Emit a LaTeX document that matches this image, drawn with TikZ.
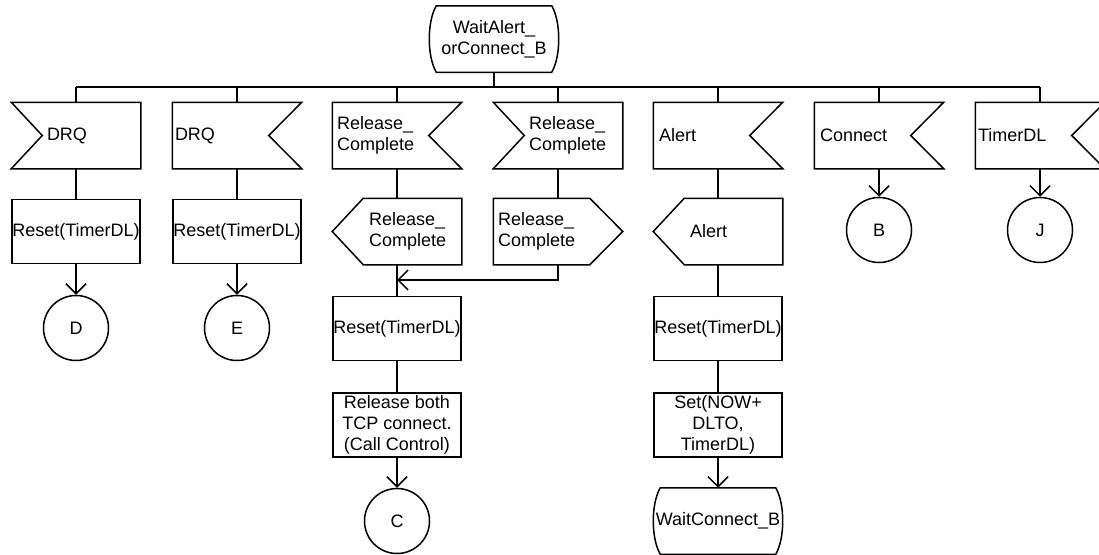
\documentclass[tikz,border=0pt]{standalone}
\usepackage{fontspec}
\setmainfont{Liberation Sans}
\usetikzlibrary{arrows.meta}

% Outlines of the SDL symbols, drawn round a plain rectangular node
\newcommand\sdlInLeft[1]{\draw[shp] (#1.north west) -- (#1.north east) -- (#1.south east) -- (#1.south west) -- ([xshift=31pt]#1.west) -- cycle;}
\newcommand\sdlInRight[1]{\draw[shp] (#1.north west) -- (#1.north east) -- ([xshift=-33pt]#1.east) -- (#1.south east) -- (#1.south west) -- cycle;}
\newcommand\sdlOutLeft[1]{\draw[shp] ([xshift=31pt]#1.north west) -- (#1.north east) -- (#1.south east) -- ([xshift=31pt]#1.south west) -- (#1.west) -- cycle;}
\newcommand\sdlOutRight[1]{\draw[shp] (#1.north west) -- ([xshift=-33pt]#1.north east) -- (#1.east) -- ([xshift=-33pt]#1.south east) -- (#1.south west) -- cycle;}
\newcommand\sdlState[1]{\draw[shp] ([xshift=7pt]#1.north west) -- ([xshift=-7pt]#1.north east)
  .. controls ([shift={(2.3pt,-16pt)}]#1.north east) and ([shift={(2.3pt,16pt)}]#1.south east) .. ([xshift=-7pt]#1.south east)
  -- ([xshift=7pt]#1.south west)
  .. controls ([shift={(-2.3pt,16pt)}]#1.south west) and ([shift={(-2.3pt,-16pt)}]#1.north west) .. cycle;}

\tikzset{
  txt/.style={font=\fontsize{18}{21}\selectfont},
  shp/.style={line join=miter},
  sym/.style={txt, minimum width=128pt, minimum height=65pt, inner sep=0pt},
  lbl/.style={txt, align=left, inner sep=0pt, anchor=west},
  task/.style={txt, draw, minimum width=128pt, minimum height=64pt, inner sep=0pt, align=center},
  conn/.style={txt, draw, circle, minimum size=65pt, inner sep=0pt},
  arr/.style={-{Straight Barb[length=10pt,width=20pt,line width=1.5pt]}},
}

\begin{document}
\begin{tikzpicture}[x=1pt, y=-1pt, line width=1.5pt]
\useasboundingbox (0,0) rectangle (1099,554);
\clip (0,0) rectangle (1099,554);

% start state and the bus that feeds all the inputs
\node[sym, align=center] (top) at (494,39) {WaitAlert\_\\orConnect\_B};
\sdlState{top}
\coordinate (busL) at (76,87);
\coordinate (busR) at (1040,87);
\draw (busL) -- (busR);
\draw (top.south) -- (top.south |- busL);

% column 1: DRQ
\node[sym] (c1a) at (76,135.5) {};
\sdlInLeft{c1a}
\node[lbl] (c1at) at ([xshift=35pt]c1a.west) {DRQ};
\node[task] (c1b) at (76,231.5) {Reset(TimerDL)};
\node[conn] (c1c) at (76,328) {D};

% column 2: DRQ
\node[sym] (c2a) at (237,135.5) {};
\sdlInRight{c2a}
\node[lbl] (c2at) at ([xshift=2pt]c2a.west) {DRQ};
\node[task] (c2b) at (237,231.5) {Reset(TimerDL)};
\node[conn] (c2c) at (237,328) {E};

% column 3: Release_Complete, forwarded
\node[sym] (c3a) at (397,135.5) {};
\sdlInRight{c3a}
\node[lbl] (c3at) at ([xshift=4pt]c3a.west) {Release\_\\Complete};
\node[sym] (c3b) at (397,231.5) {};
\sdlOutLeft{c3b}
\node[lbl] (c3bt) at ([xshift=36pt]c3b.west) {Release\_\\Complete};
\node[task] (c3c) at (397,328.5) {Reset(TimerDL)};
\node[task] (c3d) at (397,425) {Release both\\TCP connect.\\(Call Control)};
\node[conn] (c3e) at (397,521) {C};

% column 4: Release_Complete, other side
\node[sym] (c4a) at (558,135.5) {};
\sdlInLeft{c4a}
\node[lbl] (c4at) at ([xshift=35pt]c4a.west) {Release\_\\Complete};
\node[sym] (c4b) at (558,231.5) {};
\sdlOutRight{c4b}
\node[lbl] (c4bt) at ([xshift=4pt]c4b.west) {Release\_\\Complete};
\coordinate (mrg) at (397,280);

% column 5: Alert
\node[sym] (c5a) at (718,135.5) {};
\sdlInRight{c5a}
\node[lbl] (c5at) at ([xshift=5pt]c5a.west) {Alert};
\node[sym] (c5b) at (718,231.5) {};
\sdlOutLeft{c5b}
\node[lbl] (c5bt) at ([xshift=36pt]c5b.west) {Alert};
\node[task] (c5c) at (718,328.5) {Reset(TimerDL)};
\node[task] (c5d) at (718,425) {Set(NOW+\\DLTO,\\TimerDL)};
\node[sym, align=center] (c5e) at (718,521) {WaitConnect\_B};
\sdlState{c5e}

% column 6: Connect
\node[sym] (c6a) at (879,135.5) {};
\sdlInRight{c6a}
\node[lbl] (c6at) at ([xshift=5pt]c6a.west) {Connect};
\node[conn] (c6b) at (879,230) {B};

% column 7: TimerDL
\node[sym] (c7a) at (1040,135.5) {};
\sdlInRight{c7a}
\node[lbl] (c7at) at ([xshift=2pt]c7a.west) {TimerDL};
\node[conn] (c7b) at (1040,230) {J};

% stems from the bus
\foreach \n in {c1a,c2a,c3a,c4a,c5a,c6a,c7a}
  \draw (\n.north) -- (\n.north |- busL);

% flow lines
\draw (c1a.south) -- (c1b.north);
\draw[arr] (c1b.south) -- (c1c.north);
\draw (c2a.south) -- (c2b.north);
\draw[arr] (c2b.south) -- (c2c.north);
\draw (c3a.south) -- (c3b.north);
\draw (c3b.south) -- (c3c.north);
\draw (c3c.south) -- (c3d.north);
\draw[arr] (c3d.south) -- (c3e.north);
\draw (c4a.south) -- (c4b.north);
\draw[arr] (c4b.south) |- (mrg);
\draw (c5a.south) -- (c5b.north);
\draw (c5b.south) -- (c5c.north);
\draw (c5c.south) -- (c5d.north);
\draw[arr] (c5d.south) -- (c5e.north);
\draw[arr] (c6a.south) -- (c6b.north);
\draw[arr] (c7a.south) -- (c7b.north);
\end{tikzpicture}
\end{document}
